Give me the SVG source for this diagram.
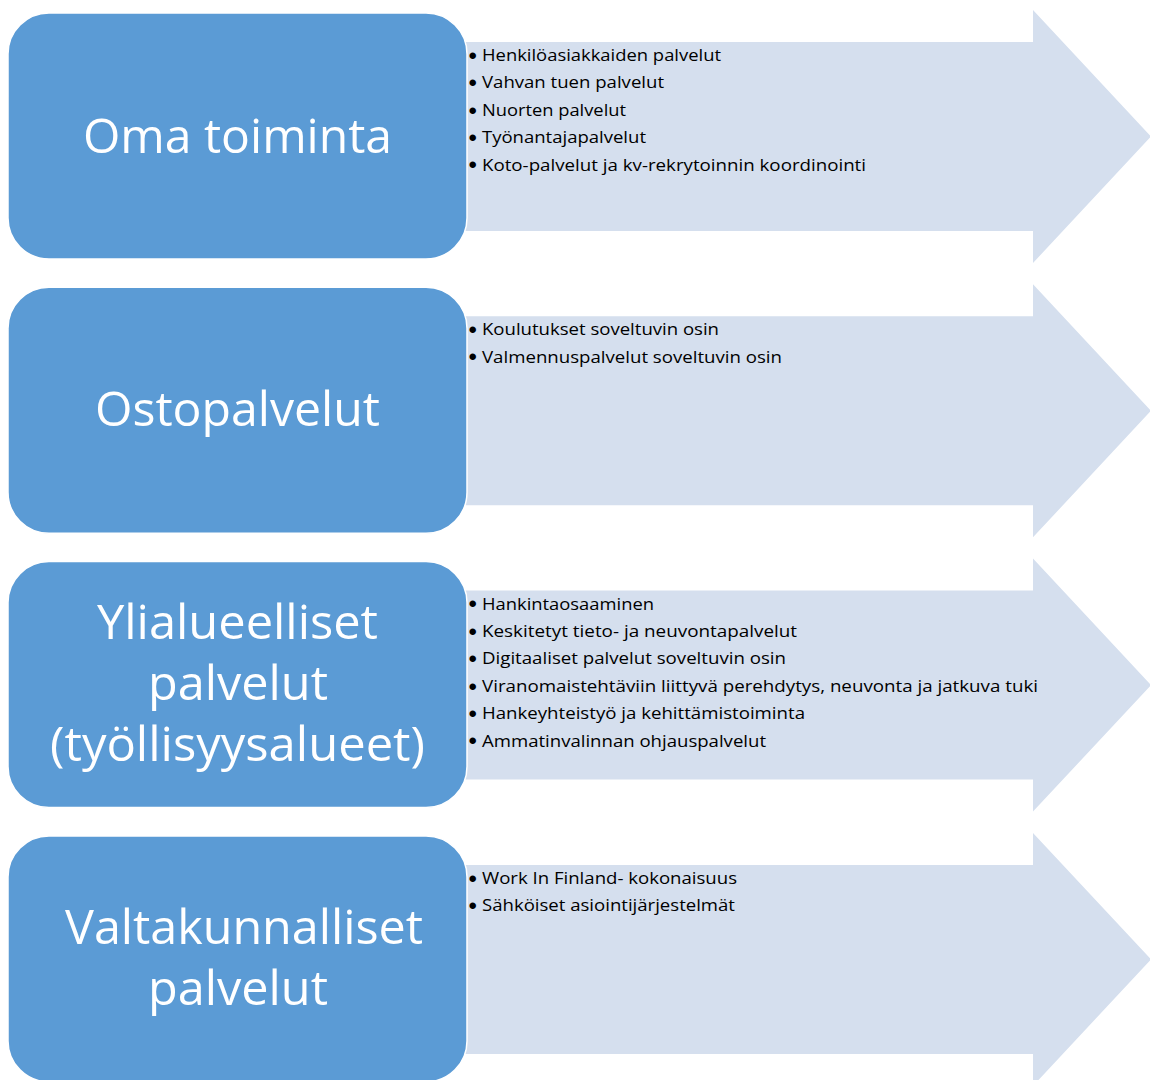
<svg xmlns="http://www.w3.org/2000/svg" width="1150" height="1080" viewBox="0 0 1150 1080">
<style>
.arrow{fill:#D5DFEE;stroke:none}
.box{fill:#5B9BD5;stroke:#FFFFFF;stroke-width:1.5}
.big{font-family:"Open Sans","Noto Sans","Liberation Sans",sans-serif;font-size:48px;fill:#FFFFFF;text-anchor:middle}
.item{font-family:"Open Sans","Noto Sans","Liberation Sans",sans-serif;font-size:16px;fill:#000000}
.bul{font-family:"Liberation Sans",sans-serif;font-size:24px;fill:#000000}
</style>
<defs>
<path id="arr" d="M440,42 H1033 V10 L1151,136.5 L1033,263 V231 H440 Z"/>
</defs>
<rect width="1150" height="1080" fill="#FFFFFF"/>
<g id="connectors">
<use href="#arr" class="arrow"/>
<use href="#arr" class="arrow" transform="translate(0,274.3)"/>
<use href="#arr" class="arrow" transform="translate(0,548.6)"/>
<use href="#arr" class="arrow" transform="translate(0,822.9)"/>
</g>
<g id="row1">
<rect class="box" x="8" y="13" width="459" height="246" rx="41"/>
<text class="big" x="237.5" y="153" textLength="309" lengthAdjust="spacingAndGlyphs">Oma toiminta</text>
<g id="list1">
<text class="bul" x="468.5" y="63.7">•</text><text class="item" x="482" y="61" textLength="239" lengthAdjust="spacingAndGlyphs">Henkilöasiakkaiden palvelut</text>
<text class="bul" x="468.5" y="91.1">•</text><text class="item" x="482" y="88.4" textLength="182" lengthAdjust="spacingAndGlyphs">Vahvan tuen palvelut</text>
<text class="bul" x="468.5" y="118.5">•</text><text class="item" x="482" y="115.8" textLength="144" lengthAdjust="spacingAndGlyphs">Nuorten palvelut</text>
<text class="bul" x="468.5" y="145.9">•</text><text class="item" x="482" y="143.2" textLength="164" lengthAdjust="spacingAndGlyphs">Työnantajapalvelut</text>
<text class="bul" x="468.5" y="173.3">•</text><text class="item" x="482" y="170.6" textLength="384" lengthAdjust="spacingAndGlyphs">Koto-palvelut ja kv-rekrytoinnin koordinointi</text>
</g>
</g>
<g id="row2">
<rect class="box" x="8" y="287.3" width="459" height="246" rx="41"/>
<text class="big" x="237.5" y="426" textLength="285" lengthAdjust="spacingAndGlyphs">Ostopalvelut</text>
<g id="list2">
<text class="bul" x="468.5" y="338">•</text><text class="item" x="482" y="335.3" textLength="237" lengthAdjust="spacingAndGlyphs">Koulutukset soveltuvin osin</text>
<text class="bul" x="468.5" y="365.4">•</text><text class="item" x="482" y="362.7" textLength="300" lengthAdjust="spacingAndGlyphs">Valmennuspalvelut soveltuvin osin</text>
</g>
</g>
<g id="row3">
<rect class="box" x="8" y="561.6" width="459" height="246" rx="41"/>
<text class="big" x="237.5" y="639" textLength="281" lengthAdjust="spacingAndGlyphs">Ylialueelliset</text>
<text class="big" x="238" y="700" textLength="180" lengthAdjust="spacingAndGlyphs">palvelut</text>
<text class="big" x="237.5" y="761" textLength="375" lengthAdjust="spacingAndGlyphs">(työllisyysalueet)</text>
<g id="list3">
<text class="bul" x="468.5" y="612.3">•</text><text class="item" x="482" y="609.6" textLength="172" lengthAdjust="spacingAndGlyphs">Hankintaosaaminen</text>
<text class="bul" x="468.5" y="639.7">•</text><text class="item" x="482" y="637" textLength="315" lengthAdjust="spacingAndGlyphs">Keskitetyt tieto- ja neuvontapalvelut</text>
<text class="bul" x="468.5" y="667.1">•</text><text class="item" x="482" y="664.4" textLength="304" lengthAdjust="spacingAndGlyphs">Digitaaliset palvelut soveltuvin osin</text>
<text class="bul" x="468.5" y="694.5">•</text><text class="item" x="482" y="691.8" textLength="556" lengthAdjust="spacingAndGlyphs">Viranomaistehtäviin liittyvä perehdytys, neuvonta ja jatkuva tuki</text>
<text class="bul" x="468.5" y="721.9">•</text><text class="item" x="482" y="719.2" textLength="323" lengthAdjust="spacingAndGlyphs">Hankeyhteistyö ja kehittämistoiminta</text>
<text class="bul" x="468.5" y="749.3">•</text><text class="item" x="482" y="746.6" textLength="284" lengthAdjust="spacingAndGlyphs">Ammatinvalinnan ohjauspalvelut</text>
</g>
</g>
<g id="row4">
<rect class="box" x="8" y="835.9" width="459" height="246" rx="41"/>
<text class="big" x="244" y="944" textLength="358" lengthAdjust="spacingAndGlyphs">Valtakunnalliset</text>
<text class="big" x="238" y="1005" textLength="180" lengthAdjust="spacingAndGlyphs">palvelut</text>
<g id="list4">
<text class="bul" x="468.5" y="886.6">•</text><text class="item" x="482" y="883.9" textLength="255" lengthAdjust="spacingAndGlyphs">Work In Finland- kokonaisuus</text>
<text class="bul" x="468.5" y="914">•</text><text class="item" x="482" y="911.3" textLength="253" lengthAdjust="spacingAndGlyphs">Sähköiset asiointijärjestelmät</text>
</g>
</g>
</svg>
